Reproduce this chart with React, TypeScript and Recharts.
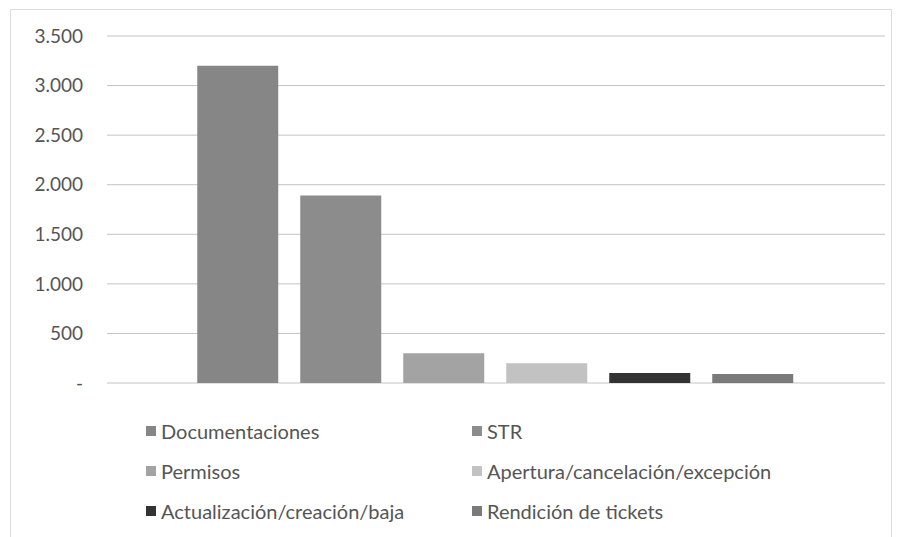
import { BarChart, Bar, XAxis, YAxis, CartesianGrid } from "recharts"

const categories = ["Total"]
const seriesNames = [
  "Documentaciones",
  "STR",
  "Permisos",
  "Apertura/cancelación/excepción",
  "Actualización/creación/baja",
  "Rendición de tickets",
]
const seriesValues = [3200, 1890, 300, 200, 100, 90]
const seriesColors = ["#868686", "#8c8c8c", "#a3a3a3", "#c2c2c2", "#333333", "#7a7a7a"]
const yTicks = [0, 500, 1000, 1500, 2000, 2500, 3000, 3500]
const yTickLabels = ["-", "500", "1.000", "1.500", "2.000", "2.500", "3.000", "3.500"]

const data = categories.map((name) => {
  const row: Record<string, string | number> = { name }
  seriesNames.forEach((s, i) => {
    row[s] = seriesValues[i]
  })
  return row
})

const font = "Lato, 'Open Sans', sans-serif"

function LegendGrid() {
  return (
    <div
      style={{
        position: "absolute",
        left: 146,
        top: 418,
        display: "grid",
        gridTemplateColumns: "326px 360px",
        rowGap: 14,
        fontFamily: font,
        fontSize: 20,
        color: "#555",
      }}
    >
      {seriesNames.map((s, i) => (
        <div key={s} style={{ display: "flex", alignItems: "center", height: 26 }}>
          <span
            style={{
              display: "inline-block",
              width: 10,
              height: 10,
              background: seriesColors[i],
              marginRight: 5,
            }}
          />
          {s}
        </div>
      ))}
    </div>
  )
}

export default function App() {
  return (
    <div style={{ position: "fixed", left: 0, top: 0, width: 899, height: 537, background: "#fff" }}>
      <div
        style={{
          position: "absolute",
          left: 10,
          top: 9,
          width: 880,
          height: 540,
          border: "1px solid #dcdcdc",
        }}
      />
      <BarChart
        width={899}
        height={537}
        data={data}
        margin={{ top: 36, right: 14, left: 0, bottom: 154 }}
        barCategoryGap="11.6%"
        barGap={22}
      >
        <CartesianGrid vertical={false} stroke="#c4c4c4" />
        <XAxis dataKey="name" hide />
        <YAxis
          width={107}
          domain={[0, 3500]}
          ticks={yTicks}
          interval={0}
          axisLine={false}
          tickLine={false}
          tickMargin={18}
          tickFormatter={(v: number) => yTickLabels[yTicks.indexOf(v)]}
          tick={{ fill: "#555", fontSize: 19, fontFamily: font }}
        />
        {seriesNames.map((s, i) => (
          <Bar key={s} dataKey={s} fill={seriesColors[i]} isAnimationActive={false} />
        ))}
      </BarChart>
      <LegendGrid />
    </div>
  )
}
